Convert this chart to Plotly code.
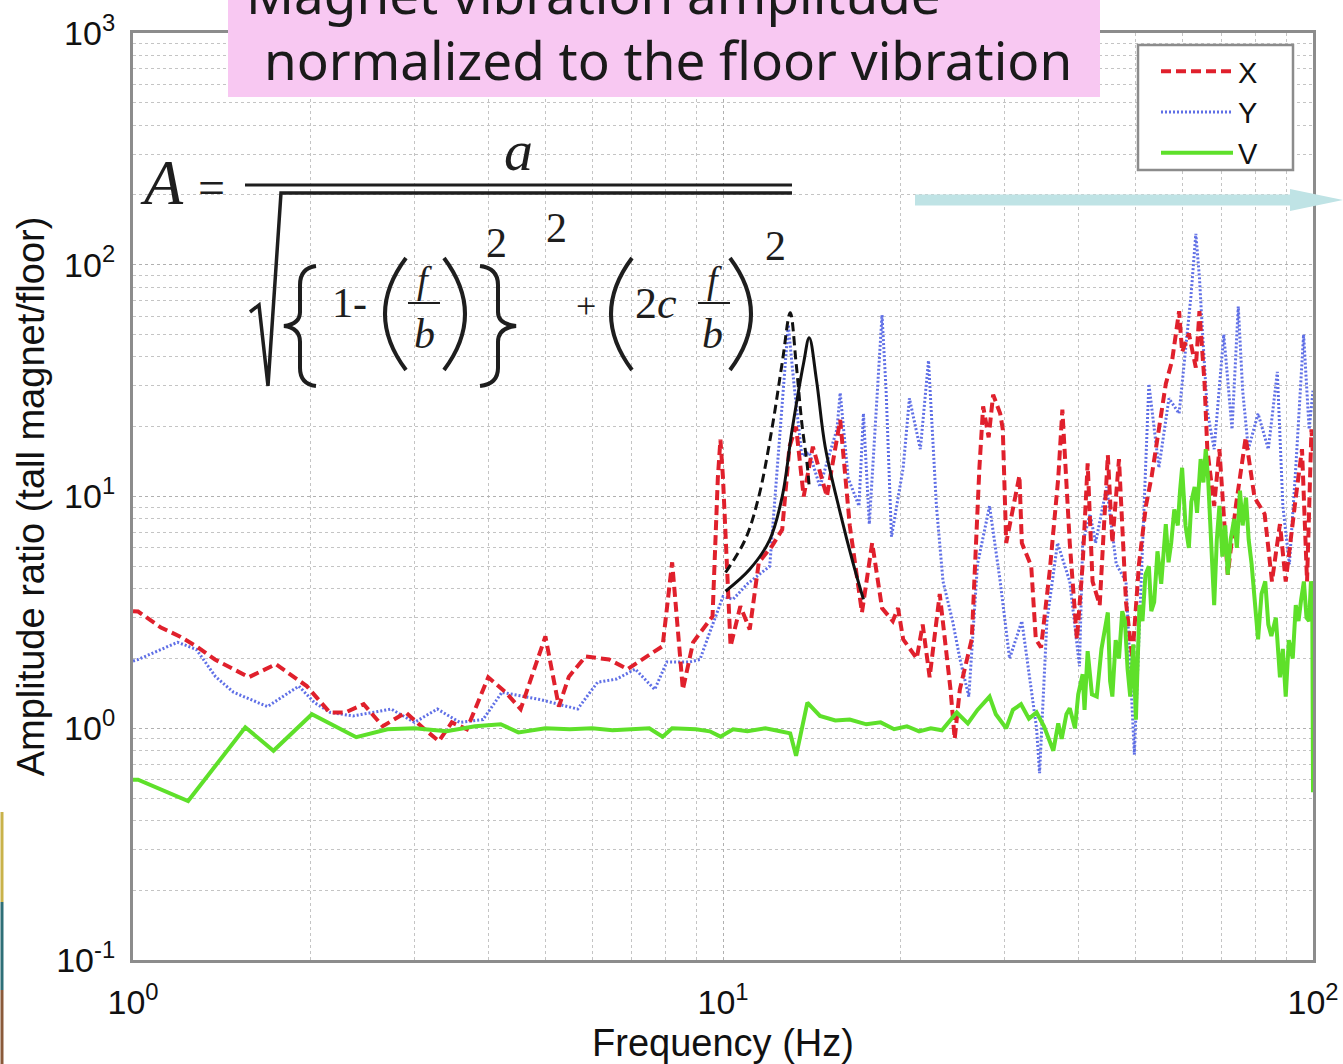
import plotly.graph_objects as go

# ---------------- data ----------------
x_freq = [1.00, 1.02, 1.115, 1.20, 1.28, 1.377, 1.572, 1.747, 1.97, 2.155, 2.29, 2.46, 2.65, 2.9, 3.12, 3.3,
          3.47, 3.68, 4.0, 4.28, 4.54, 5.0, 5.27, 5.48, 5.85, 6.41, 6.89, 7.3, 7.9, 8.2, 8.55, 8.9, 9.6, 9.8,
          9.9, 10.0, 10.3, 10.7, 11.1, 11.5, 12.1, 12.6, 12.96, 13.3, 13.7, 14.2, 15.0, 15.8, 16.4, 17.2,
          17.9, 18.6, 19.4, 19.8, 20.2, 21.3, 21.8, 22.4, 23.3, 24.3, 24.7, 25.2, 26.4, 27.2, 27.6, 28.2,
          28.7, 29.5, 29.8, 30.2, 31.8, 32.1, 33.3, 33.9, 34.6, 35.8, 37.0, 37.6, 38.7, 39.8, 40.7, 41.5,
          42.3, 43.5, 44.9, 45.7, 46.9, 48.2, 49.4, 50.7, 52.1, 53.3, 54.8, 56.3, 57.7, 59.3, 60.0, 61.6,
          63.3, 64.2, 65.5, 66.2, 68.0, 69.4, 71.7, 74.0, 76.9, 79.6, 82.8, 85.2, 87.9, 89.9, 93.5, 95.8,
          97.7, 99.4, 100.0]
x_amp = [3.2, 3.19, 2.72, 2.49, 2.26, 1.98, 1.66, 1.89, 1.52, 1.17, 1.17, 1.27, 1.02, 1.17, 0.99, 0.88,
         1.06, 0.99, 1.66, 1.43, 1.21, 2.49, 1.24, 1.67, 2.04, 1.98, 1.80, 1.98, 2.26, 5.2, 1.47, 2.35, 3.04, 12.0,
         17.6, 12.0, 2.26, 3.36, 2.67, 5.2, 6.1, 7.2, 16.4, 20.0, 10.0, 16.4, 10.0, 21.4, 7.5, 3.16,
         6.3, 3.3, 2.9, 3.3, 2.42, 2.0, 2.8, 1.66, 3.8, 1.47, 0.9, 1.47, 2.42, 13.3, 24.5, 18.0,
         27.5, 22.8, 19.5, 6.3, 12.3, 6.3, 5.0, 2.42, 2.23, 4.8, 12.0, 23.7, 6.3, 2.42, 5.1, 13.9,
         4.3, 3.4, 15.1, 6.3, 14.5, 3.5, 2.0, 5.1, 9.1, 12.3, 19.5, 30.6, 38.6, 63.0, 42.0, 50.5,
         36.0, 63.0, 30.6, 16.0, 9.1, 16.0, 4.6, 9.1, 18.0, 9.9, 8.4, 4.3, 7.6, 4.3, 9.9, 16.0,
         4.3, 19.5, 15.0]

y_freq = [1.00, 1.02, 1.19, 1.28, 1.38, 1.48, 1.69, 1.91, 2.03, 2.16, 2.36, 2.74, 3.0, 3.28, 3.58, 3.92,
          4.22, 4.9, 5.67, 6.13, 6.6, 7.1, 7.66, 8.03, 8.76, 9.14, 9.5, 10.0, 10.4, 11.0, 12.0, 12.5, 12.9,
          13.2, 13.6, 14.0, 14.6, 15.0, 15.6, 15.8, 16.3, 17.0, 17.3, 17.7, 18.6, 18.9, 19.3, 20.2, 20.7,
          21.6, 22.3, 23.0, 23.6, 24.5, 25.2, 26.1, 27.0, 28.3, 29.5, 30.6, 32.1, 34.0, 34.4, 35.4, 36.9,
          38.7, 40.2, 40.7, 41.9, 42.8, 44.7, 46.4, 48.2, 49.8, 51.4, 52.7, 54.8, 57.0, 59.3, 60.8, 62.1,
          63.3, 64.2, 65.0, 66.2, 68.0, 70.6, 72.9, 74.7, 76.0, 77.7, 80.7, 84.0, 87.0, 88.9, 91.2, 93.5,
          96.4, 98.5, 100.0]
y_amp = [1.95, 1.98, 2.35, 2.19, 1.67, 1.43, 1.24, 1.52, 1.29, 1.17, 1.13, 1.21, 1.06, 1.21, 1.06, 1.09,
         1.43, 1.33, 1.21, 1.58, 1.63, 1.80, 1.47, 1.93, 1.93, 1.98, 2.6, 3.7, 3.6, 4.2, 5.0, 20.0, 55.0,
         30.0, 15.0, 15.5, 11.0, 14.0, 19.5, 28.0, 12.0, 9.1, 22.8, 7.6, 60.7, 28.6, 6.7, 13.3, 26.5,
         16.0, 38.6, 9.1, 4.3, 2.9, 2.0, 1.37, 5.1, 9.1, 4.3, 2.0, 2.9, 1.0, 0.64, 2.9, 6.3,
         4.3, 1.85, 6.3, 8.4, 6.3, 11.0, 5.1, 4.3, 0.77, 6.3, 30.6, 13.3, 26.5, 22.8, 42.0, 73.0,
         136.0, 88.0, 50.0, 23.4, 16.0, 50.0, 19.5, 66.0, 28.6, 16.0, 22.8, 16.0, 34.5, 9.1, 5.1, 13.3,
         50.0, 19.5, 28.6]

v_freq = [1.00, 1.02, 1.24, 1.38, 1.55, 1.73, 2.01, 2.39, 2.7, 3.0, 3.4, 3.8, 4.2, 4.5, 5.0, 5.5, 6.0,
          6.5, 7.0, 7.5, 7.9, 8.2, 9.0, 9.5, 9.9, 10.4, 11.0, 11.8, 12.5, 13.0, 13.3, 13.9, 14.6, 15.5,
          16.4, 17.5, 18.5, 19.5, 20.5, 21.5, 22.5, 23.5, 24.9, 26.0, 27.0, 28.3, 29.0, 30.2, 31.0, 32.0,
          33.0, 34.0, 35.0, 36.3, 37.0, 37.5, 38.2, 38.7, 39.5, 40.0, 40.7, 41.0, 41.5, 42.2, 43.0, 43.8,
          44.9, 45.3, 45.7, 46.3, 46.9, 47.5, 48.0, 48.5, 49.0, 49.6, 50.1, 50.8, 51.4, 52.0, 52.7, 53.2,
          53.8, 54.5, 55.3, 56.3, 56.9, 57.5, 58.2, 59.0, 59.5, 60.0, 60.8, 61.6, 62.2, 63.0, 63.6, 64.5,
          65.2, 65.8, 66.4, 66.8, 67.3, 68.0, 68.7, 69.4, 70.2, 71.0, 71.7, 72.5, 73.5, 74.3, 75.2, 76.0,
          77.0, 77.8, 78.7, 79.6, 80.7, 81.8, 83.0, 84.0, 85.0, 86.5, 87.9, 88.9, 89.9, 91.0, 92.4, 93.5,
          94.5, 95.5, 96.5, 97.5, 98.5, 99.2, 99.7, 100.0]
v_amp = [0.60, 0.60, 0.485, 0.686, 1.01, 0.80, 1.15, 0.915, 0.99, 1.0, 0.97, 1.02, 1.04, 0.96, 1.0, 0.99, 1.0,
         0.98, 0.99, 1.0, 0.92, 1.0, 0.99, 0.97, 0.92, 0.99, 0.97, 1.0, 0.97, 0.95, 0.76, 1.29, 1.13, 1.08,
         1.09, 1.04, 1.06, 0.99, 1.02, 0.97, 1.0, 0.98, 1.17, 1.05, 1.2, 1.37, 1.15, 1.0, 1.2, 1.27,
         1.1, 1.17, 1.02, 0.80, 1.05, 0.9, 1.15, 1.22, 1.0, 1.4, 1.71, 1.2, 2.15, 1.4, 1.37, 2.2,
         3.16, 1.6, 1.37, 2.4, 2.0, 3.2, 2.9, 1.8, 1.37, 2.3, 1.09, 3.4, 2.9, 4.6, 5.0, 3.2,
         3.5, 5.8, 4.2, 7.6, 5.2, 6.3, 8.8, 7.5, 10.5, 13.3, 7.5, 6.0, 9.5, 11.0, 8.5, 14.5,
         11.5, 16.0, 12.0, 9.1, 5.5, 3.4, 6.5, 9.1, 5.5, 7.5, 4.6, 6.5, 8.0, 6.0, 10.6, 7.5,
         9.9, 6.5, 5.1, 3.5, 2.42, 3.8, 4.3, 2.8, 2.5, 3.0, 1.66, 2.2, 1.37, 2.4, 2.0, 3.4,
         2.9, 3.6, 4.3, 3.0, 2.9, 4.3, 4.0, 0.53]

fit_solid_freq = [10.1, 11.1, 12.0, 12.6, 13.1, 13.7, 14.0, 14.4, 14.9, 15.8, 16.6, 17.3]
fit_solid_amp = [3.9, 4.85, 6.5, 10.0, 19.5, 37.8, 48.4, 31.9, 16.4, 8.5, 5.2, 3.6]
fit_dash_freq = [10.1, 10.9, 11.5, 12.1, 12.6, 13.0, 13.3, 13.6, 13.9, 14.0]
fit_dash_amp = [4.7, 6.5, 10.0, 19.5, 37.8, 62.0, 37.8, 20.8, 13.5, 11.0]

x_tickvals = [1, 10, 100]
x_ticktext = ["10<sup>0</sup>", "10<sup>1</sup>", "10<sup>2</sup>"]
y_tickvals = [0.1, 1, 10, 100, 1000]
y_ticktext = ["10<sup>-1</sup>", "10<sup>0</sup>", "10<sup>1</sup>", "10<sup>2</sup>", "10<sup>3</sup>"]
minor_vals = [m * 10 ** e for e in (-1, 0, 1, 2) for m in range(2, 10)]

# ---------------- figure ----------------
W, H = 1343, 1064
L, R, T, B = 133, 1313, 33, 960


def P(x, y):
    return (x - L) / (R - L), (B - y) / (B - T)


def path(segs):
    out = []
    for cmd, pts in segs:
        if cmd == "Z":
            out.append("Z")
            continue
        n = 2 if cmd == "Q" else 1
        for i in range(0, len(pts), n):
            coords = []
            for (x, y) in pts[i:i + n]:
                px, py = P(x, y)
                coords.append(f"{px:.5f},{py:.5f}")
            out.append(cmd + " " + " ".join(coords))
    return " ".join(out)


fig = go.Figure()
fig.add_trace(go.Scatter(x=y_freq, y=y_amp, name="Y", mode="lines", legendrank=2,
                         line=dict(color="#5f6fe6", width=3, dash="2px,2px")))
fig.add_trace(go.Scatter(x=x_freq, y=x_amp, name="X", mode="lines", legendrank=1,
                         line=dict(color="#e0202c", width=4, dash="10px,5px")))
fig.add_trace(go.Scatter(x=v_freq, y=v_amp, name="V", mode="lines", legendrank=3,
                         line=dict(color="#5ee02a", width=4)))
fig.add_trace(go.Scatter(x=fit_dash_freq, y=fit_dash_amp, mode="lines", showlegend=False,
                         line=dict(color="#111111", width=3, dash="9px,5px"), line_shape="spline"))
fig.add_trace(go.Scatter(x=fit_solid_freq, y=fit_solid_amp, mode="lines", showlegend=False,
                         line=dict(color="#111111", width=3), line_shape="spline"))

font_ax = "Liberation Sans Narrow, Liberation Sans, Arial, sans-serif"
grid_c = "#c4c4c4"
common = dict(type="log", tickmode="array", showline=True, mirror=True, linecolor="#8c8c8c", linewidth=3,
              showgrid=True, gridcolor="#b0b0b0", griddash="dot", gridwidth=1, ticks="", automargin=False,
              tickfont=dict(family=font_ax, size=34, color="#111"), zeroline=False,
              minor=dict(tickmode="array", tickvals=minor_vals, showgrid=True, gridcolor=grid_c,
                         griddash="dot", gridwidth=1))
fig.update_xaxes(range=[0, 2], tickvals=x_tickvals, ticktext=x_ticktext, ticklabelstandoff=10,
                 title=dict(text="Frequency (Hz)", font=dict(family=font_ax, size=38, color="#111"),
                            standoff=22), **common)
fig.update_yaxes(range=[-1, 3], tickvals=y_tickvals, ticktext=y_ticktext, ticklabelstandoff=8,
                 title=dict(text="Amplitude ratio (tall magnet/floor)",
                            font=dict(family=font_ax, size=38, color="#111"), standoff=0), **common)

lx, ly = P(1156, 46)
fig.update_layout(
    width=W, height=H, autosize=False,
    margin=dict(l=L, r=W - R, t=T, b=H - B, pad=0),
    paper_bgcolor="white", plot_bgcolor="white",
    legend=dict(x=lx, y=ly, xanchor="left", yanchor="top", bgcolor="rgba(0,0,0,0)",
                borderwidth=0, itemwidth=72,
                font=dict(family=font_ax, size=29, color="#111"), tracegroupgap=0),
)

shapes = []
annos = []

# legend frame
x0, y0 = P(1138, 45)
x1, y1 = P(1293, 170)
shapes.append(dict(type="rect", xref="paper", yref="paper", x0=x0, y0=y1, x1=x1, y1=y0,
                   fillcolor="white", line=dict(color="#8c8c8c", width=2.5), layer="above"))

# title box
x0, y0 = P(228, -10)
x1, y1 = P(1100, 97)
shapes.append(dict(type="rect", xref="paper", yref="paper", x0=x0, y0=y1, x1=x1, y1=y0,
                   fillcolor="#f8c8f2", line=dict(width=0), layer="above"))
title_font = dict(family="Noto Sans, DejaVu Sans, sans-serif", size=53, color="#1a1a1a")
tx, ty = P(244, -6)
annos.append(dict(text="Magnet vibration amplitude", xref="paper", yref="paper", x=tx, y=ty,
                  xanchor="left", yanchor="middle", showarrow=False, font=title_font))
tx, ty = P(262, 60)
annos.append(dict(text="normalized to the floor vibration", xref="paper", yref="paper", x=tx, y=ty,
                  xanchor="left", yanchor="middle", showarrow=False, font=title_font))

# arrow
ax0, ay0 = P(915, 200)
ax1, ay1 = P(1300, 200)
shapes.append(dict(type="line", xref="paper", yref="paper", x0=ax0, y0=ay0, x1=ax1, y1=ay1,
                   line=dict(color="#bfe3e5", width=11), layer="above"))
shapes.append(dict(type="path", xref="paper", yref="paper",
                   path=path([("M", [(1290, 189)]), ("L", [(1343, 200), (1290, 211)]), ("Z", [])]),
                   fillcolor="#bfe3e5", line=dict(width=0), layer="above"))

# left edge artefact
for (ya, yb, col) in [(812, 902, "#c9b24a"), (902, 990, "#2e6f77"), (990, 1064, "#8a5a3a")]:
    p0 = P(2, ya)
    p1 = P(2, yb)
    shapes.append(dict(type="line", xref="paper", yref="paper", x0=p0[0], y0=p0[1], x1=p1[0], y1=p1[1],
                       line=dict(color=col, width=3), layer="above"))

# formula
serif = "Liberation Serif, Times New Roman, serif"
fc = "#1e1e1e"


def txt(s, x, y, size, italic=False):
    px, py = P(x, y)
    annos.append(dict(text=f"<i>{s}</i>" if italic else s, xref="paper", yref="paper", x=px, y=py,
                      xanchor="center", yanchor="middle", showarrow=False,
                      font=dict(family=serif, size=size, color=fc)))


def stroke(segs, width=3.5):
    shapes.append(dict(type="path", xref="paper", yref="paper", path=path(segs),
                       line=dict(color=fc, width=width), layer="above"))


txt("A", 162, 183, 64, italic=True)
txt("=", 211, 188, 48)
txt("a", 518, 150, 58, italic=True)
stroke([("M", [(245, 185)]), ("L", [(792, 185)])], 3)
# radical sign with overline
stroke([("M", [(250, 312)]), ("L", [(259, 305), (268, 386), (281, 193), (792, 193)])], 3.5)
# braces
stroke([("M", [(316, 266)]), ("Q", [(300, 268), (300, 285)]), ("L", [(300, 312)]),
        ("Q", [(300, 324), (284, 326)]), ("Q", [(300, 328), (300, 342)]), ("L", [(300, 368)]),
        ("Q", [(300, 384), (316, 386)])], 4)
stroke([("M", [(480, 266)]), ("Q", [(498, 268), (498, 285)]), ("L", [(498, 312)]),
        ("Q", [(498, 324), (516, 326)]), ("Q", [(498, 328), (498, 342)]), ("L", [(498, 368)]),
        ("Q", [(498, 384), (480, 386)])], 4)
# parentheses
stroke([("M", [(406, 258)]), ("Q", [(364, 314), (406, 370)])], 4)
stroke([("M", [(444, 258)]), ("Q", [(486, 314), (444, 370)])], 4)
stroke([("M", [(632, 258)]), ("Q", [(590, 314), (632, 370)])], 4)
stroke([("M", [(730, 258)]), ("Q", [(772, 314), (730, 370)])], 4)
txt("1-", 349, 303, 42)
txt("f", 424, 280, 38, italic=True)
stroke([("M", [(408, 303)]), ("L", [(440, 303)])], 2)
txt("b", 424, 334, 42, italic=True)
txt("2", 496, 243, 42)
txt("2", 556, 228, 42)
txt("+", 586, 306, 36)
txt("2<i>c</i>", 656, 303, 44)
txt("f", 714, 280, 38, italic=True)
stroke([("M", [(698, 303)]), ("L", [(730, 303)])], 2)
txt("b", 712, 334, 42, italic=True)
txt("2", 775, 246, 42)

fig.update_layout(shapes=shapes, annotations=annos)
fig.write_html("out.html")
